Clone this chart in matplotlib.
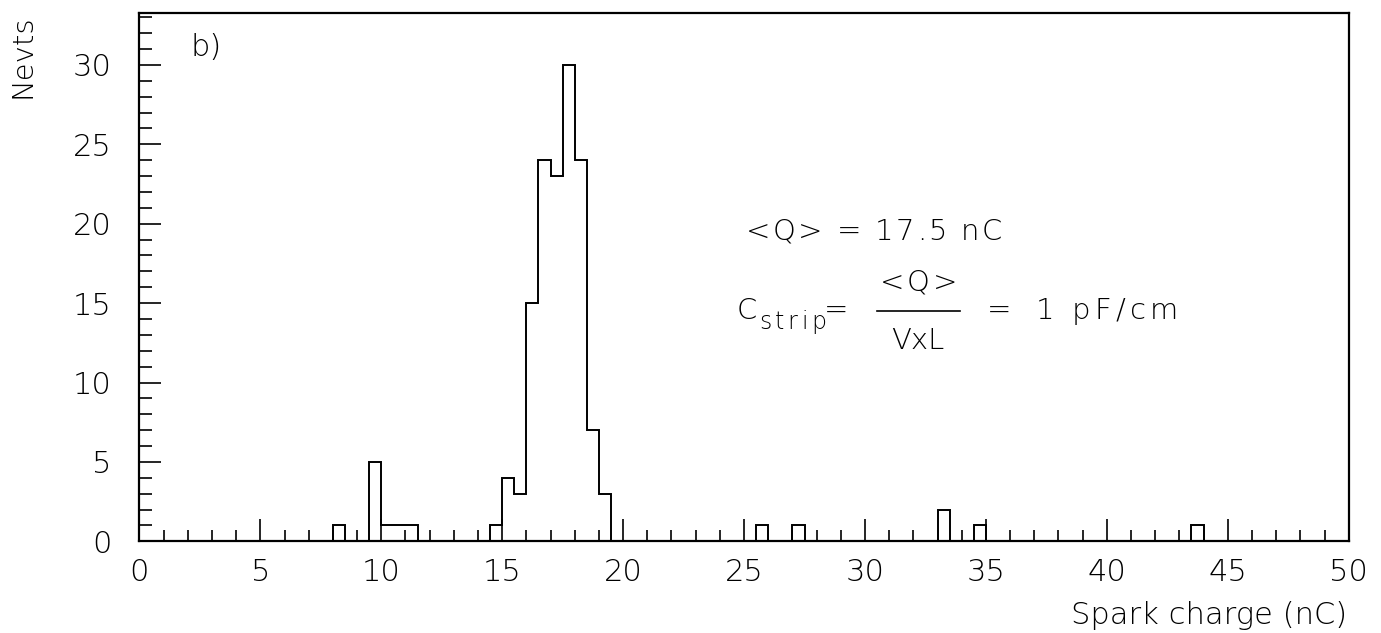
import numpy as np
import matplotlib
matplotlib.use("Agg")
import matplotlib.pyplot as plt
from matplotlib.ticker import MultipleLocator

# histogram: 100 bins of 0.5 nC from 0 to 50, only the filled bins listed
bin_low = [8.0, 9.5, 10.0, 10.5, 11.0, 14.5, 15.0, 15.5, 16.0, 16.5,
           17.0, 17.5, 18.0, 18.5, 19.0, 25.5, 27.0, 33.0, 34.5, 43.5]
counts = [1, 5, 1, 1, 1, 1, 4, 3, 15, 24,
          23, 30, 24, 7, 3, 1, 1, 2, 1, 1]
x_ticks = [0, 5, 10, 15, 20, 25, 30, 35, 40, 45, 50]
y_ticks = [0, 5, 10, 15, 20, 25, 30]

edges = np.linspace(0, 50, 101)
h = np.zeros(100)
for lo, c in zip(bin_low, counts):
    h[int(round(lo / 0.5))] = c

plt.rcParams['font.family'] = ['DejaVu Sans']
plt.rcParams['font.weight'] = 200

W, H = 1381, 633
fig = plt.figure(figsize=(W / 100, H / 100), dpi=100)
ax = fig.add_axes([139.4 / W, 1 - 541.3 / H, 1209.3 / W, 528.8 / H])

ax.stairs(h, edges, color='black', lw=1.4)
ax.set_xlim(0, 50)
ax.set_ylim(0, 33.3)

for s in ax.spines.values():
    s.set_linewidth(1.6)

ax.set_xticks(x_ticks)
ax.set_yticks(y_ticks)
ax.xaxis.set_minor_locator(MultipleLocator(1))
ax.yaxis.set_minor_locator(MultipleLocator(1))
ax.tick_params(which='both', direction='in', top=False, right=False, width=1.2)
ax.tick_params(axis='x', which='major', length=16, labelsize=22, pad=12)
ax.tick_params(axis='x', which='minor', length=8)
ax.tick_params(axis='y', which='major', length=16, labelsize=22, pad=20)
ax.tick_params(axis='y', which='minor', length=9)

renderer = fig.canvas.get_renderer()


def fx(x):
    return x / W


def fy(y):
    return 1 - y / H


def fit_text(s, x0, x1, y, size):
    # spread the characters so the string spans x0..x1 (pixels);
    # if it is already wider, just centre it
    probe = fig.text(0, 0, s, fontsize=size)
    full = probe.get_window_extent(renderer).width
    if full >= x1 - x0 or len(s) == 1:
        probe.set_position((fx((x0 + x1) / 2), fy(y)))
        probe.set_ha('center')
        probe.set_va('center')
        return
    probe.remove()
    ts = [fig.text(0, 0, ch, fontsize=size, va='center', ha='left') for ch in s]
    ws = [t.get_window_extent(renderer).width for t in ts]
    gap = max((x1 - x0 - sum(ws)) / (len(s) - 1), 0)
    x = x0
    for t, w in zip(ts, ws):
        t.set_position((fx(x), fy(y)))
        x += w + gap


fig.text(fx(1346.7), fy(616), 'Spark charge (nC)', ha='right', va='center',
         fontsize=22)
fig.text(fx(22), fy(14), 'Nevts', ha='center', va='top', rotation=90,
         fontsize=21)
fig.text(fx(190), fy(47), 'b)', ha='left', va='center', fontsize=22)

fit_text('<Q> = 17.5 nC', 746, 1002, 232, 21)
fit_text('C', 738, 755, 311, 21)
fit_text('strip', 759, 826, 322, 17)
fit_text('=', 828, 845, 311, 21)
fit_text('<Q>', 880, 957, 283, 21)
fit_text('VxL', 896, 940, 341, 21)
fig.add_artist(plt.Line2D([fx(877), fx(960)], [fy(311), fy(311)],
                          color='black', lw=1.2))
fit_text('=', 988, 1010, 311, 21)
fit_text('1 pF/cm', 1036, 1178, 311, 21)

fig.savefig('out.png', dpi=100)
